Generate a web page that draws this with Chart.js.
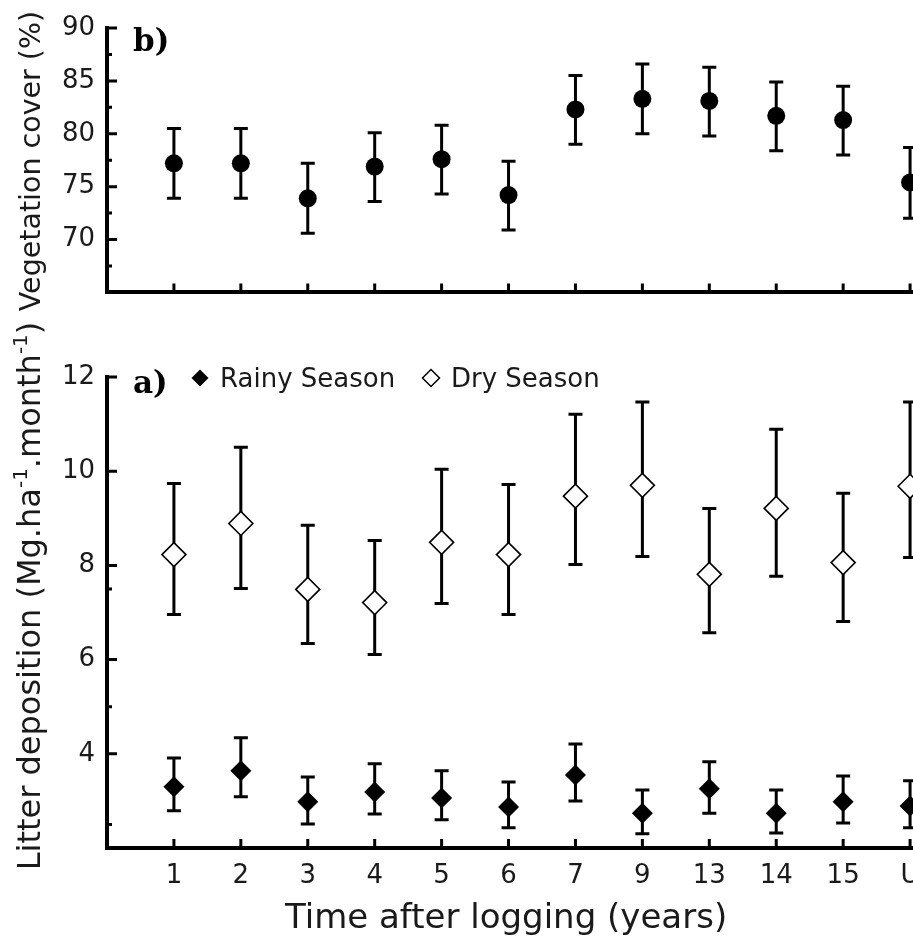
<!DOCTYPE html>
<html>
<head>
<meta charset="utf-8">
<script src="https://cdn.jsdelivr.net/npm/chart.js@4.4.1/dist/chart.umd.min.js"></script>
<style>
  html, body { margin: 0; padding: 0; background: #fff; overflow: hidden; width: 913px; height: 937px; }
  canvas { position: absolute; left: 0; }
  #vegChart { top: 0; }
  #litterChart { top: 260px; }
</style>
</head>
<body>
<canvas id="vegChart" width="1000" height="320"></canvas>
<canvas id="litterChart" width="1000" height="677"></canvas>
<script>
// categories: time after logging (years), last one is the unlogged reference
const categories = ['1', '2', '3', '4', '5', '6', '7', '9', '13', '14', '15', 'U'];

// b) vegetation cover (%)
const vegMean = [77.2, 77.2, 73.9, 76.9, 77.6, 74.2, 82.3, 83.3, 83.1, 81.7, 81.3, 75.4];
const vegHigh = [80.5, 80.5, 77.2, 80.1, 80.8, 77.4, 85.5, 86.6, 86.3, 84.9, 84.5, 78.7];
const vegLow  = [73.9, 73.9, 70.6, 73.6, 74.3, 70.9, 79.0, 80.0, 79.8, 78.4, 78.0, 72.0];
const vegMinorTicks = [67.5, 72.5, 77.5, 82.5, 87.5];

// a) litter deposition (Mg.ha-1.month-1)
const rainyMean = [3.30, 3.64, 2.98, 3.19, 3.06, 2.87, 3.55, 2.74, 3.26, 2.74, 2.98, 2.89];
const rainyHigh = [3.91, 4.34, 3.51, 3.79, 3.64, 3.40, 4.21, 3.23, 3.83, 3.23, 3.53, 3.43];
const rainyLow  = [2.79, 3.09, 2.51, 2.72, 2.60, 2.43, 3.00, 2.30, 2.74, 2.32, 2.53, 2.43];
const dryMean = [8.23, 8.89, 7.49, 7.21, 8.49, 8.23, 9.47, 9.70, 7.81, 9.21, 8.06, 9.68];
const dryHigh = [9.74, 10.51, 8.85, 8.53, 10.04, 9.72, 11.21, 11.47, 9.21, 10.89, 9.53, 11.47];
const dryLow  = [6.96, 7.51, 6.34, 6.11, 7.19, 6.96, 8.02, 8.19, 6.57, 7.77, 6.81, 8.17];
const litterMinorTicks = [2.5, 5, 7.5];

const TEXT = '#1a1a1a';
const SANS = '"DejaVu Sans", sans-serif';

function toPoints(mean, low, high) {
  return mean.map((m, i) => ({ x: i + 1, y: m, yMin: low[i], yMax: high[i] }));
}

// error bars drawn under the markers
const errorBars = {
  id: 'errorBars',
  beforeDatasetsDraw(chart) {
    const { ctx, scales: { x, y } } = chart;
    ctx.save();
    ctx.strokeStyle = '#000';
    ctx.lineWidth = 3;
    chart.data.datasets.forEach(ds => {
      ds.data.forEach(p => {
        const px = x.getPixelForValue(p.x);
        const top = y.getPixelForValue(p.yMax);
        const bot = y.getPixelForValue(p.yMin);
        ctx.beginPath();
        ctx.moveTo(px, top); ctx.lineTo(px, bot);
        ctx.moveTo(px - 7, top); ctx.lineTo(px + 7, top);
        ctx.moveTo(px - 7, bot); ctx.lineTo(px + 7, bot);
        ctx.stroke();
      });
    });
    ctx.restore();
  }
};

// tick marks pointing into the plot area
const innerTicks = {
  id: 'innerTicks',
  afterDraw(chart, args, opts) {
    const { ctx, scales: { x, y }, chartArea } = chart;
    ctx.save();
    ctx.strokeStyle = '#000';
    ctx.lineWidth = 3;
    ctx.beginPath();
    categories.forEach((c, i) => {
      const px = x.getPixelForValue(i + 1);
      ctx.moveTo(px, chartArea.bottom);
      ctx.lineTo(px, chartArea.bottom - 9);
    });
    y.ticks.forEach(t => {
      const py = y.getPixelForValue(t.value);
      ctx.moveTo(chartArea.left, py);
      ctx.lineTo(chartArea.left + 10, py);
    });
    (opts.minor || []).forEach(v => {
      const py = y.getPixelForValue(v);
      ctx.moveTo(chartArea.left, py);
      ctx.lineTo(chartArea.left + 5, py);
    });
    ctx.stroke();
    ctx.restore();
  }
};

// text with superscript parts, centred on 0 along the baseline
function drawRich(ctx, parts, size) {
  const supSize = Math.round(size * 0.62);
  let total = 0;
  parts.forEach(p => {
    ctx.font = (p.sup ? supSize : size) + 'px ' + SANS;
    p.w = ctx.measureText(p.t).width;
    total += p.w;
  });
  let cx = -total / 2;
  parts.forEach(p => {
    ctx.font = (p.sup ? supSize : size) + 'px ' + SANS;
    ctx.fillText(p.t, cx, p.sup ? -size * 0.42 : 0);
    cx += p.w;
  });
}

const annotations = {
  id: 'annotations',
  afterDraw(chart, args, opts) {
    const ctx = chart.ctx;
    ctx.save();
    ctx.fillStyle = TEXT;
    ctx.textAlign = 'left';
    ctx.textBaseline = 'alphabetic';

    // y title
    ctx.save();
    ctx.translate(opts.yTitle.x, opts.yTitle.y);
    ctx.rotate(-Math.PI / 2);
    drawRich(ctx, opts.yTitle.parts, opts.yTitle.size);
    ctx.restore();

    // panel letter
    ctx.fillStyle = '#000';
    ctx.font = 'bold 31px "DejaVu Serif", serif';
    ctx.fillText(opts.panel.text, opts.panel.x, opts.panel.y);

    if (opts.legend) {
      const lg = opts.legend;
      ctx.font = '26px ' + SANS;
      lg.items.forEach(it => {
        ctx.beginPath();
        ctx.moveTo(it.x, lg.y - 8.5);
        ctx.lineTo(it.x + 8.5, lg.y);
        ctx.lineTo(it.x, lg.y + 8.5);
        ctx.lineTo(it.x - 8.5, lg.y);
        ctx.closePath();
        if (it.filled) {
          ctx.fillStyle = '#000';
          ctx.fill();
        } else {
          ctx.fillStyle = '#fff';
          ctx.fill();
          ctx.lineWidth = 1.5;
          ctx.strokeStyle = '#000';
          ctx.stroke();
        }
        ctx.fillStyle = TEXT;
        ctx.fillText(it.label, it.x + 20, lg.y + 9);
      });
    }

    if (opts.xTitle) {
      ctx.fillStyle = TEXT;
      ctx.font = '34px ' + SANS;
      ctx.fillText(opts.xTitle.text, opts.xTitle.x, opts.xTitle.y);
    }
    ctx.restore();
  }
};

function baseScales(yMin, yMax, step, xHeight, showXLabels) {
  return {
    x: {
      type: 'linear',
      min: 0,
      max: 13,
      afterFit: s => { s.height = xHeight; },
      grid: { display: false, drawTicks: false },
      border: { display: true, color: '#000', width: 4 },
      ticks: {
        display: showXLabels,
        stepSize: 1,
        autoSkip: false,
        maxRotation: 0,
        padding: 13,
        color: TEXT,
        font: { family: SANS, size: 26 },
        callback: v => categories[v - 1] || ''
      }
    },
    y: {
      min: yMin,
      max: yMax,
      afterFit: s => { s.width = 107; },
      grid: { display: false, drawTicks: false },
      border: { display: true, color: '#000', width: 4 },
      ticks: {
        stepSize: step,
        padding: 12,
        color: TEXT,
        font: { family: SANS, size: 26 },
        callback: v => (v === yMin ? '' : v)
      }
    }
  };
}

const vegCtx = document.getElementById('vegChart');
const vegChart = new Chart(vegCtx, {
  type: 'scatter',
  data: {
    datasets: [{
      label: 'Vegetation cover',
      data: toPoints(vegMean, vegLow, vegHigh),
      pointStyle: 'circle',
      pointRadius: 9,
      backgroundColor: '#000',
      borderColor: '#000',
      borderWidth: 0
    }]
  },
  options: {
    responsive: false,
    animation: false,
    layout: { padding: { top: 28, right: 23, left: 0, bottom: 0 } },
    scales: baseScales(65, 90, 5, 14, false),
    plugins: {
      legend: { display: false },
      tooltip: { enabled: false },
      innerTicks: { minor: vegMinorTicks },
      annotations: {
        yTitle: { x: 40, y: 161, size: 28.5, parts: [{ t: 'Vegetation cover (%)' }] },
        panel: { text: 'b)', x: 133, y: 51 }
      }
    }
  },
  plugins: [errorBars, innerTicks, annotations]
});

// bottom canvas starts at y=260 so its long axis title is not cut off
const litterCtx = document.getElementById('litterChart');
const litterChart = new Chart(litterCtx, {
  type: 'scatter',
  data: {
    datasets: [
      {
        label: 'Rainy Season',
        data: toPoints(rainyMean, rainyLow, rainyHigh),
        pointStyle: 'rectRot',
        pointRadius: 10.5,
        backgroundColor: '#000',
        borderColor: '#000',
        borderWidth: 0
      },
      {
        label: 'Dry Season',
        data: toPoints(dryMean, dryLow, dryHigh),
        pointStyle: 'rectRot',
        pointRadius: 12,
        backgroundColor: '#fff',
        borderColor: '#000',
        borderWidth: 1.6
      }
    ]
  },
  options: {
    responsive: false,
    animation: false,
    layout: { padding: { top: 117, right: 23, left: 0, bottom: 0 } },
    scales: baseScales(2, 12, 2, 89, true),
    plugins: {
      legend: { display: false },
      tooltip: { enabled: false },
      innerTicks: { minor: litterMinorTicks },
      annotations: {
        yTitle: {
          x: 40, y: 336, size: 32,
          parts: [
            { t: 'Litter deposition (Mg.ha' }, { t: '-1', sup: true },
            { t: '.month' }, { t: '-1', sup: true }, { t: ')' }
          ]
        },
        panel: { text: 'a)', x: 133, y: 133 },
        legend: {
          y: 118,
          items: [
            { x: 200, label: 'Rainy Season', filled: true },
            { x: 431, label: 'Dry Season', filled: false }
          ]
        },
        xTitle: { text: 'Time after logging (years)', x: 285, y: 668 }
      }
    }
  },
  plugins: [errorBars, innerTicks, annotations]
});
</script>
</body>
</html>
